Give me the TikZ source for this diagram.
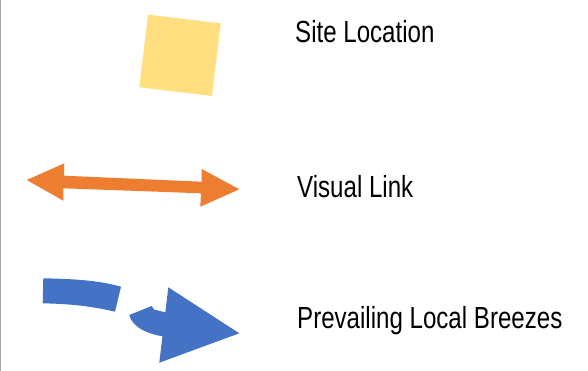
\documentclass[tikz,border=0pt]{standalone}
\usepackage{fontspec}
\setmainfont{Liberation Sans}[FakeStretch=0.79]
\usepackage{tikz}

\definecolor{siteyellow}{HTML}{FFDF80}
\definecolor{linkorange}{HTML}{ED7D31}
\definecolor{breezeblue}{HTML}{4472C4}

\tikzset{legendtext/.style={anchor=base west, inner sep=0pt, font=\fontsize{30.5}{36}\selectfont}}

\begin{document}
\begin{tikzpicture}[x=1pt,y=-1pt]

\useasboundingbox (0,0) rectangle (588,371);

\draw[gray!70, line width=1.5pt] (0.6,0)--(0.6,371);


\fill[siteyellow] (148,14.7)--(220.7,23.3)--(212,96)--(139.3,87.3)--cycle;

\node[legendtext] (site) at (295,43) {Site Location};


\fill[linkorange] (26.7,180)--(64.3,163.3)--(64,175.7)--(201.7,181.7)--(201.7,169)--(239.3,189.3)
  --(200.3,206.7)--(201,193.3)--(63.5,188.3)--(63.3,200.7)--cycle;

\node[legendtext] (link) at (297,197) {Visual Link};


\fill[breezeblue] (43.3,278.3) .. controls (80,279) and (100,281) .. (121,286.7)
  --(115,311.7) .. controls (95,307) and (75,304) .. (42.7,303.3)--cycle;
\fill[breezeblue] (129.3,315)--(151.7,306)--(154,309.5)--(168,313)--(168,337)
  .. controls (148,335) and (132,327) .. (129.3,315)--cycle;
\fill[breezeblue] (168.3,287.3)--(239.3,333.3)--(159.3,362.7)--cycle;

\node[legendtext] (breeze) at (297,328) {Prevailing Local Breezes};

\end{tikzpicture}
\end{document}
